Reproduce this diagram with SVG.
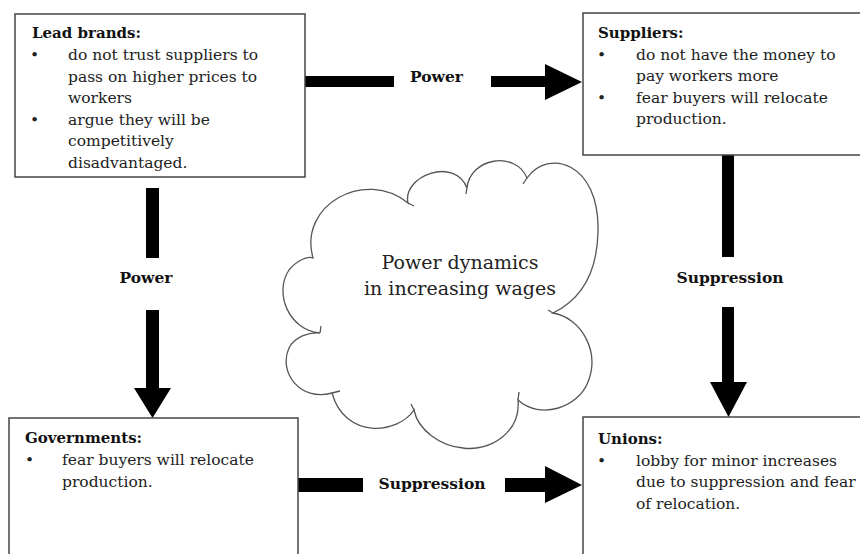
<svg xmlns="http://www.w3.org/2000/svg" width="860" height="554" viewBox="0 0 860 554">
<style>
.box{fill:#fff;stroke:#444;stroke-width:1.5}
.t{font-family:"DejaVu Serif","Liberation Serif",serif;font-size:15.5px;fill:#222}
.h{font-family:"DejaVu Serif","Liberation Serif",serif;font-size:15px;font-weight:bold;fill:#111}
.lbl{font-family:"DejaVu Serif","Liberation Serif",serif;font-size:15.5px;font-weight:bold;fill:#111;text-anchor:middle}
.cl{font-family:"DejaVu Serif","Liberation Serif",serif;font-size:19px;fill:#222;text-anchor:middle}
.ar{fill:#000}
.cloud{fill:#fff;stroke:#555;stroke-width:1.3}
.cusp{fill:none;stroke:#555;stroke-width:1.3}
</style>
<rect width="860" height="554" fill="#fff"/>
<g id="connectors">
  <g id="power-top">
    <rect class="ar" x="305" y="76" width="89" height="11"/>
    <polygon class="ar" points="491,76 545,76 545,64 582,82 545,100 545,87 491,87"/>
    <text class="lbl" x="436.5" y="82">Power</text>
  </g>
  <g id="power-left">
    <rect class="ar" x="146" y="188" width="13" height="70"/>
    <polygon class="ar" points="146,310 159,310 159,388 171,388 152.5,418 134,388 146,388"/>
    <text class="lbl" x="146" y="283">Power</text>
  </g>
  <g id="suppression-right">
    <rect class="ar" x="722" y="155" width="12" height="102"/>
    <polygon class="ar" points="722,307 734,307 734,382 747,382 728.5,417 710,382 722,382"/>
    <text class="lbl" x="730" y="283">Suppression</text>
  </g>
  <g id="suppression-bottom">
    <rect class="ar" x="297" y="478" width="66" height="14"/>
    <polygon class="ar" points="505,478 545,478 545,466 582,485 545,503 545,492 505,492"/>
    <text class="lbl" x="432" y="489">Suppression</text>
  </g>
</g>
<g id="cloud">
  <path class="cloud" d="M313,258 C298,205 365,168 408,203 C402,176 455,156 467,188 C470,158 515,150 527,178 C548,148 600,162 598,232 C597,275 580,300 553,313 C582,318 600,352 588,382 C578,408 540,420 518,400 C521,432 490,452 463,448 C440,446 418,430 414,410 C398,434 345,440 332,393 C300,402 278,372 289,348 C295,336 310,332 320,333 C288,330 274,292 289,270 C297,260 308,256 313,258 Z"/>
  <path class="cusp" d="M408,203 L414,206 M467,188 L466,194 M527,178 L523,184 M553,313 L548,310 M518,400 L519,392 M414,410 L411,404 M332,393 L340,391 M320,333 L321,326"/>
  <text class="cl" x="460" y="269">Power dynamics</text>
  <text class="cl" x="460" y="295">in increasing wages</text>
</g>
<g id="lead-brands">
  <rect class="box" x="15" y="14" width="290" height="163"/>
  <text class="h" x="32" y="38">Lead brands:</text>
  <text class="t" x="30" y="60">•</text>
  <text class="t" x="68" y="60">do not trust suppliers to</text>
  <text class="t" x="68" y="82">pass on higher prices to</text>
  <text class="t" x="68" y="103">workers</text>
  <text class="t" x="30" y="125">•</text>
  <text class="t" x="68" y="125">argue they will be</text>
  <text class="t" x="68" y="146">competitively</text>
  <text class="t" x="68" y="168">disadvantaged.</text>
</g>
<g id="suppliers">
  <rect class="box" x="583" y="13" width="290" height="142"/>
  <text class="h" x="598" y="38">Suppliers:</text>
  <text class="t" x="597" y="60">•</text>
  <text class="t" x="636" y="60">do not have the money to</text>
  <text class="t" x="636" y="81">pay workers more</text>
  <text class="t" x="597" y="103">•</text>
  <text class="t" x="636" y="103">fear buyers will relocate</text>
  <text class="t" x="636" y="124">production.</text>
</g>
<g id="governments">
  <rect class="box" x="9" y="418" width="289" height="150"/>
  <text class="h" x="25" y="443">Governments:</text>
  <text class="t" x="25" y="465">•</text>
  <text class="t" x="62" y="465">fear buyers will relocate</text>
  <text class="t" x="62" y="487">production.</text>
</g>
<g id="unions">
  <rect class="box" x="583" y="417" width="290" height="150"/>
  <text class="h" x="598" y="444">Unions:</text>
  <text class="t" x="597" y="466">•</text>
  <text class="t" x="636" y="466">lobby for minor increases</text>
  <text class="t" x="636" y="487">due to suppression and fear</text>
  <text class="t" x="636" y="509">of relocation.</text>
</g>
</svg>
